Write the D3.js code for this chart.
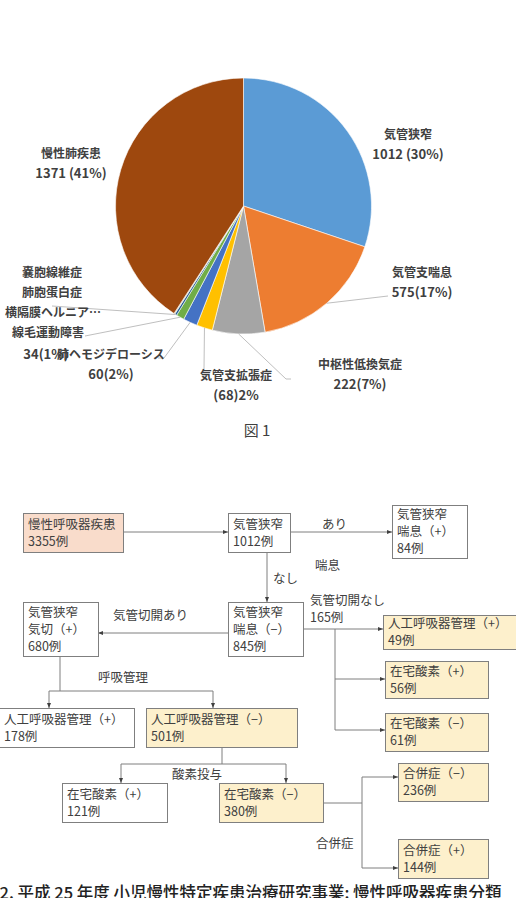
<!DOCTYPE html>
<html><head><meta charset="utf-8">
<script src="https://cdn.jsdelivr.net/npm/d3@7"></script>
<style>
html,body{margin:0;padding:0;background:#fff;overflow:hidden;}
svg{display:block;}
</style></head>
<body>
<svg id="c" width="516" height="898"></svg>
<script>
// ---------- Pie data ----------
const categories = ["気管狭窄","気管支喘息","中枢性低換気症","気管支拡張症","肺ヘモジデローシス","線毛運動障害","横隔膜ヘルニア…","肺胞蛋白症","嚢胞線維症","慢性肺疾患"];
const values = [1012, 575, 222, 68, 60, 34, 9, 2, 2, 1371];
const valueLabels = ["1012 (30%)","575(17%)","222(7%)","(68)2%","60(2%)","34(1%)","","","","1371 (41%)"];
const colors = ["#5B9BD5","#ED7D31","#A5A5A5","#FFC000","#4472C4","#70AD47","#255E91","#636363","#997300","#9E480E"];
const figTitle1 = "図 1";

// ---------- Flowchart data ----------
const nodeNames = ["慢性呼吸器疾患","気管狭窄","気管狭窄\n喘息（+）","気管狭窄\n喘息（−）","気管狭窄\n気切（+）","人工呼吸器管理（+）","在宅酸素（+）","在宅酸素（−）","人工呼吸器管理（+）","人工呼吸器管理（−）","在宅酸素（+）","在宅酸素（−）","合併症（−）","合併症（+）"];
const nodeCounts = [3355, 1012, 84, 845, 680, 49, 56, 61, 178, 501, 121, 380, 236, 144];
const edgeLabels = ["あり","喘息","なし","気管切開あり","気管切開なし","165例","呼吸管理","酸素投与","合併症"];
const caption2 = "図2. 平成 25 年度 小児慢性特定疾患治療研究事業: 慢性呼吸器疾患分類";

const svg = d3.select("#c");
const txt = "#404040";

// ---------- Pie ----------
const cx = 243.5, cy = 206, R = 128;
const pie = d3.pie().sort(null).value(d => d).startAngle(0).endAngle(2*Math.PI);
const arcs = pie(values);
const arc = d3.arc().innerRadius(0).outerRadius(R);
const g = svg.append("g").attr("transform", `translate(${cx},${cy})`);
g.selectAll("path").data(arcs).enter().append("path")
  .attr("d", arc).attr("fill", (d,i) => colors[i])
  .attr("stroke", "#fff").attr("stroke-width", 0.6);

// label layout (absolute positions): [x, y1, y2, anchor]
const labelLayout = [
  [408, 135, 155, "middle"],
  [422, 273, 293, "middle"],
  [360, 365, 385, "middle"],
  [236, 376, 396, "middle"],
  [111, 355, 375, "middle"],
  [46, 355, null, "middle"],
  [53, 313, null, "middle"],
  [52, 293, null, "middle"],
  [52, 273, null, "middle"],
  [71, 154, 174, "middle"]
];
// leader line bends (absolute)
const leaderPts = [
  null,
  [[388, 296]],
  [[286, 379], [291, 379]],
  [[204, 369]],
  [[164, 358], [158, 358]],
  [[85, 336]],
  [[52, 306]],
  null, null, null
];
const pieFont = "'Noto Sans CJK JP','Noto Sans',sans-serif";
arcs.forEach((a, i) => {
  if (leaderPts[i]) {
    const m = (a.startAngle + a.endAngle) / 2;
    const p0 = [cx + R * Math.sin(m), cy - R * Math.cos(m)];
    const pts = [p0].concat(leaderPts[i]);
    svg.append("path").attr("d", d3.line()(pts)).attr("fill","none")
      .attr("stroke","#BFBFBF").attr("stroke-width",1);
  }
});
arcs.forEach((a, i) => {
  const L = labelLayout[i];
  const t = svg.append("text").attr("font-family", pieFont).attr("font-weight", 700)
    .attr("font-size", 12).attr("fill", txt).attr("text-anchor", L[3]);
  if (i === 5) {
    t.attr("x", L[0]).attr("y", L[1] + 4).attr("font-size", 13).text(valueLabels[i]);
    return;
  }
  t.attr("x", L[0]).attr("y", L[1] + 4).text(categories[i]);
  if (L[2] !== null && valueLabels[i]) {
    svg.append("text").attr("font-family", pieFont).attr("font-weight", 700)
      .attr("font-size", 13).attr("fill", txt).attr("text-anchor", L[3])
      .attr("x", L[0]).attr("y", L[2] + 4).text(valueLabels[i]);
  }
});
// 線毛運動障害 name
svg.append("text").attr("font-family", pieFont).attr("font-weight", 700)
  .attr("font-size", 12).attr("fill", txt).attr("text-anchor", "middle")
  .attr("x", 48).attr("y", 337).text(categories[5]);

svg.append("text").attr("x", 257).attr("y", 436).attr("text-anchor","middle")
  .attr("font-family", pieFont).attr("font-size", 15).attr("fill", "#404040")
  .text(figTitle1);

// ---------- Flowchart ----------
const F = "'Noto Sans CJK JP','Noto Sans',sans-serif";
const salmon = "#F9DCCB", gold = "#FDF0CC", border = "#7F7F7F";
// layout: [x, y, w, h, fill]
const boxes = [
  [23, 513, 100, 39, salmon],
  [228, 513, 62, 39, "#fff"],
  [392, 505, 75, 53, "#fff"],
  [228, 602, 75, 54, "#fff"],
  [23, 602, 75, 54, "#fff"],
  [383, 615, 134, 34, gold],
  [385, 661, 103, 37, gold],
  [385, 713, 103, 38, gold],
  [-1, 708, 135, 39, "#fff"],
  [146, 708, 151, 39, gold],
  [62, 783, 105, 39, "#fff"],
  [219, 783, 104, 39, gold],
  [398, 763, 90, 38, gold],
  [398, 839, 90, 39, gold]
];

const defs = svg.append("defs");
defs.append("marker").attr("id","ar").attr("viewBox","0 0 10 10").attr("refX",10).attr("refY",5)
  .attr("markerWidth",5).attr("markerHeight",5).attr("orient","auto")
  .append("path").attr("d","M0,1 L10,5 L0,9 Z").attr("fill","#404040");

const lineC = "#7F7F7F";
function ln(pts, arrow) {
  const p = svg.append("path").attr("d", d3.line()(pts)).attr("fill","none")
    .attr("stroke", lineC).attr("stroke-width", 1);
  if (arrow) p.attr("marker-end","url(#ar)");
}
// edges
ln([[123,532],[228,532]], true);
ln([[290,532],[392,532]], true);
ln([[267,552],[267,602]], true);
ln([[228,633],[98,633]], true);
ln([[303,629],[383,629]], true);
ln([[335,629],[335,730]], false);
ln([[335,679],[385,679]], true);
ln([[335,730],[385,730]], true);
ln([[60,656],[60,691]], false);
ln([[49,691],[213,691]], false);
ln([[49,691],[49,708]], true);
ln([[213,691],[213,708]], true);
ln([[222,747],[222,764]], false);
ln([[121,764],[286,764]], false);
ln([[121,764],[121,783]], true);
ln([[286,764],[286,783]], true);
ln([[323,803],[362,803]], false);
ln([[362,777],[362,868]], false);
ln([[362,777],[398,777]], true);
ln([[362,868],[398,868]], true);

boxes.forEach((b, i) => {
  svg.append("rect").attr("x", b[0]+0.5).attr("y", b[1]+0.5).attr("width", b[2]).attr("height", b[3])
    .attr("fill", b[4]).attr("stroke", border).attr("stroke-width", 1);
  const lines = nodeNames[i].split("\n").concat([nodeCounts[i] + "例"]);
  const lh = 17;
  const total = lines.length * lh;
  const y0 = b[1] + b[3]/2 - total/2 + 13;
  lines.forEach((s, k) => {
    svg.append("text").attr("x", b[0] + 5).attr("y", y0 + k*lh)
      .attr("font-family", F).attr("font-size", 12.5).attr("fill", txt).text(s);
  });
});

// edge labels layout: [x, y]
const elPos = [[322,529],[315,570],[273,583],[113,620],[310,605],[310,622],[98,682],[172,779],[316,848]];
edgeLabels.forEach((s, i) => {
  svg.append("text").attr("x", elPos[i][0]).attr("y", elPos[i][1])
    .attr("font-family", F).attr("font-size", 12.5).attr("fill", txt).text(s);
});

// caption (cut at bottom, as in the reference)
svg.append("text").attr("x", -17).attr("y", 899)
  .attr("font-family", F).attr("font-size", 16.5).attr("font-weight", 500).attr("fill", "#222")
  .text(caption2);
</script>
</body></html>
